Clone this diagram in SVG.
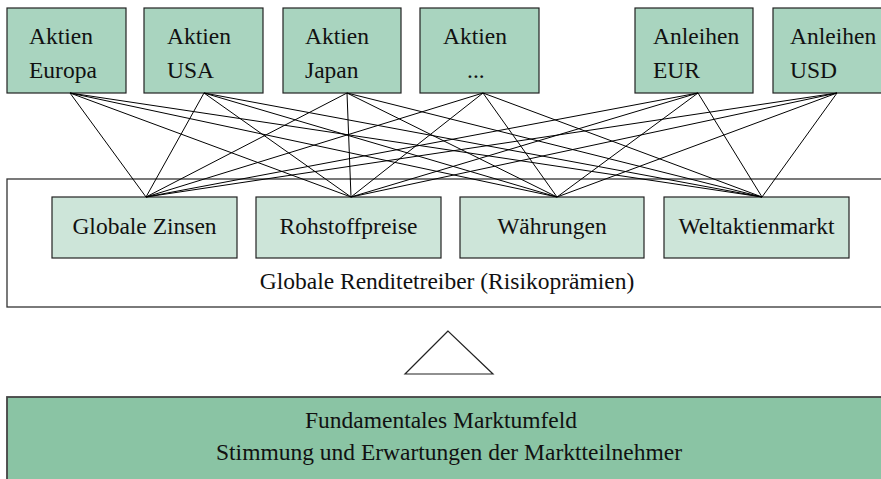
<svg xmlns="http://www.w3.org/2000/svg" width="881" height="479" viewBox="0 0 881 479">
<style>
text{font-family:'Liberation Serif','Times New Roman',serif;font-size:23.5px;fill:#111}
.top{fill:#a9d4bf;stroke:#222;stroke-width:1.2}
.drv{fill:#cde5d9;stroke:#222;stroke-width:1.2}
.c line{stroke:#000;stroke-width:1}
.mid{text-anchor:middle}
</style>
<rect id="outer" x="7" y="179" width="880" height="128" fill="#fff" stroke="#333" stroke-width="1.3"/>
<text x="447" y="289" class="mid">Globale Renditetreiber (Risikoprämien)</text>
<g id="n1"><rect class="top" x="7" y="8" width="119" height="85"/><text x="29" y="44">Aktien</text><text x="29" y="78">Europa</text></g>
<g id="n2"><rect class="top" x="144" y="8" width="119" height="85"/><text x="167" y="44">Aktien</text><text x="167" y="78">USA</text></g>
<g id="n3"><rect class="top" x="283" y="8" width="118" height="85"/><text x="305" y="44">Aktien</text><text x="305" y="78">Japan</text></g>
<g id="n4"><rect class="top" x="420" y="8" width="119" height="85"/><text x="443" y="44">Aktien</text><text x="467" y="78">...</text></g>
<g id="n5"><rect class="top" x="635" y="8" width="118" height="85"/><text x="653" y="44">Anleihen</text><text x="653" y="78">EUR</text></g>
<g id="n6"><rect class="top" x="773" y="8" width="118" height="85"/><text x="790" y="44">Anleihen</text><text x="790" y="78">USD</text></g>
<g id="d1"><rect class="drv" x="52" y="197" width="185" height="61"/><text x="144.5" y="234" class="mid">Globale Zinsen</text></g>
<g id="d2"><rect class="drv" x="256" y="197" width="185" height="61"/><text x="348.5" y="234" class="mid">Rohstoffpreise</text></g>
<g id="d3"><rect class="drv" x="460" y="197" width="184" height="61"/><text x="552" y="234" class="mid">Währungen</text></g>
<g id="d4"><rect class="drv" x="664" y="197" width="185" height="61"/><text x="756.5" y="234" class="mid">Weltaktienmarkt</text></g>
<g id="connectors" class="c">
<line x1="70" y1="93" x2="146" y2="197"/><line x1="70" y1="93" x2="351" y2="197"/><line x1="70" y1="93" x2="557" y2="197"/><line x1="70" y1="93" x2="762" y2="197"/>
<line x1="204" y1="93" x2="146" y2="197"/><line x1="204" y1="93" x2="351" y2="197"/><line x1="204" y1="93" x2="557" y2="197"/><line x1="204" y1="93" x2="762" y2="197"/>
<line x1="347" y1="93" x2="146" y2="197"/><line x1="347" y1="93" x2="351" y2="197"/><line x1="347" y1="93" x2="557" y2="197"/><line x1="347" y1="93" x2="762" y2="197"/>
<line x1="483" y1="93" x2="146" y2="197"/><line x1="483" y1="93" x2="351" y2="197"/><line x1="483" y1="93" x2="557" y2="197"/><line x1="483" y1="93" x2="762" y2="197"/>
<line x1="698" y1="93" x2="146" y2="197"/><line x1="698" y1="93" x2="351" y2="197"/><line x1="698" y1="93" x2="557" y2="197"/><line x1="698" y1="93" x2="762" y2="197"/>
<line x1="837" y1="93" x2="146" y2="197"/><line x1="837" y1="93" x2="351" y2="197"/><line x1="837" y1="93" x2="557" y2="197"/><line x1="837" y1="93" x2="762" y2="197"/>
</g>
<polygon id="triangle" points="448,331 405,374 493,374" fill="#fff" stroke="#222" stroke-width="1.2"/>
<g id="base"><rect x="7" y="397" width="880" height="90" fill="#8ac4a4" stroke="#444" stroke-width="1.8"/>
<text x="441" y="428" class="mid">Fundamentales Marktumfeld</text>
<text x="449" y="460" class="mid">Stimmung und Erwartungen der Marktteilnehmer</text></g>
</svg>
